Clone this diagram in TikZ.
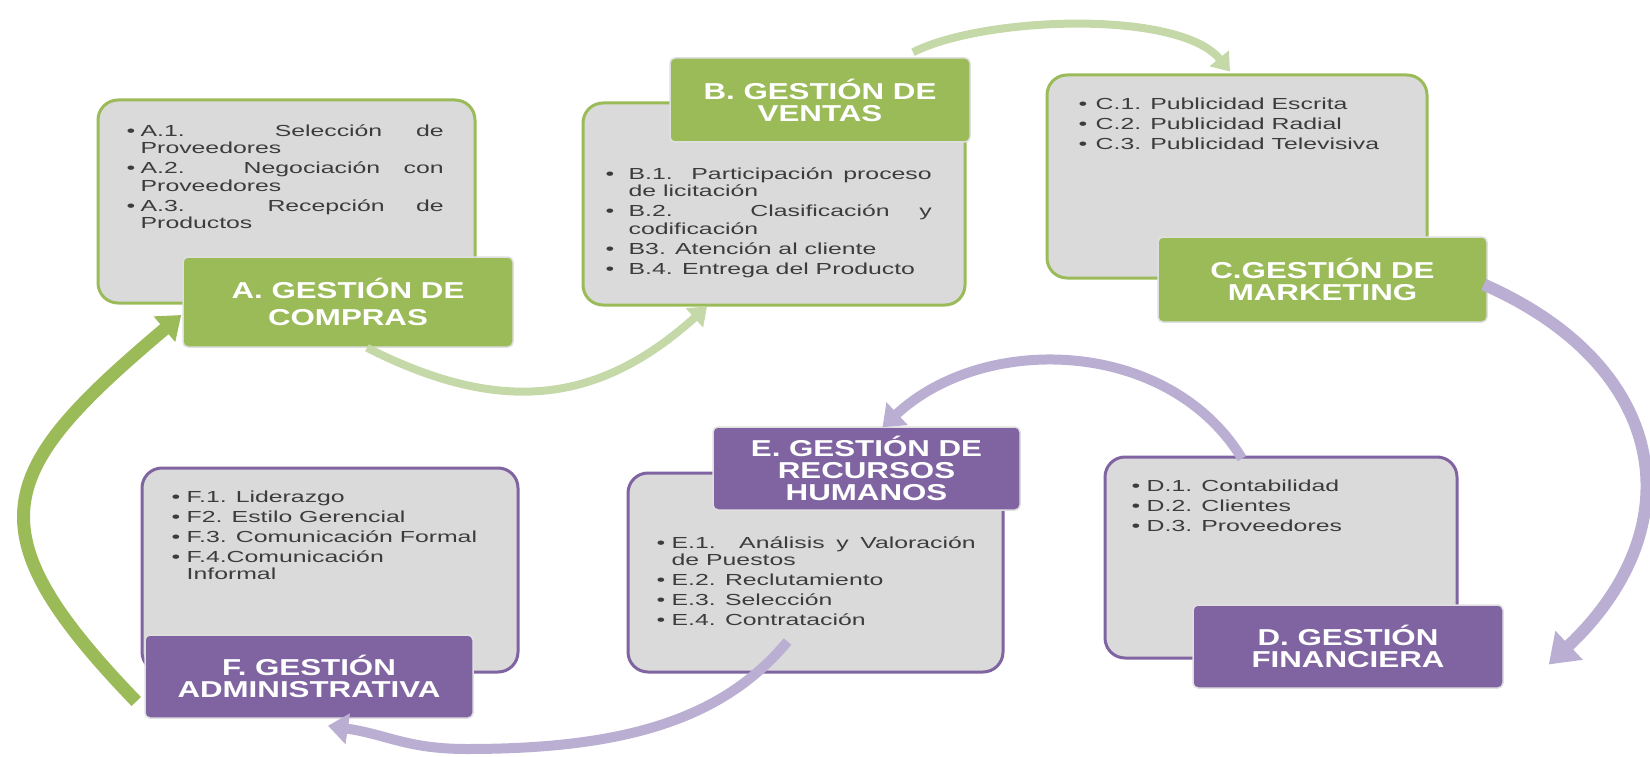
\documentclass[tikz,border=0pt]{standalone}
\usepackage{fontspec}
\usepackage{enumitem}
\usepackage{tikz}
\usetikzlibrary{arrows.meta, positioning}

\newfontfamily\itemfont{Liberation Sans}[FakeStretch=1.55]
\newfontfamily\headfont{Liberation Sans}[FakeStretch=1.36]

\definecolor{grnbox}{HTML}{9BBB59}
\definecolor{prpbox}{HTML}{8064A2}
\definecolor{grnarrow}{HTML}{C5D9A8}
\definecolor{prparrow}{HTML}{BAAFD3}
\definecolor{listgray}{HTML}{DADADA}
\definecolor{listtext}{HTML}{3C3C3C}

% bullet list used inside the grey boxes
\newenvironment{bullets}[1][15pt]{%
  \begin{itemize}[nosep, itemsep=2.5pt, leftmargin=#1, labelwidth=#1,
    labelsep=0pt, labelindent=0pt, align=left, label=\textbullet]}
  {\end{itemize}}

\hyphenpenalty=10000
\tolerance=9999

\begin{document}
\begin{tikzpicture}[
    x=1pt, y=-1pt,
    listbox/.style={draw=#1, line width=3pt, rounded corners=20pt, fill=listgray, inner sep=0pt},
    titlebox/.style={fill=#1, draw=gray!25, line width=1.5pt, rounded corners=5pt, inner sep=0pt,
      text=white, align=center, font=\headfont\bfseries\fontsize{23}{22}\selectfont},
    items/.style={inner sep=0pt, align=justify, text=listtext, font=\itemfont\fontsize{16}{17.5}\selectfont},
    link/.style={draw=#1, line width=10pt, -{Triangle[length=20pt,width=30pt]}}
  ]

  \useasboundingbox (0,0) rectangle (1650,757);

  % Grey boxes
  \node[listbox=grnbox, minimum width=377pt, minimum height=203pt] (Abox) at (286.5,201.5) {};
  \node[listbox=grnbox, minimum width=382pt, minimum height=202pt] (Bbox) at (774,204) {};
  \node[listbox=grnbox, minimum width=380pt, minimum height=203pt] (Cbox) at (1237,176.5) {};
  \node[listbox=prpbox, minimum width=352pt, minimum height=201pt] (Dbox) at (1281,557.5) {};
  \node[listbox=prpbox, minimum width=375pt, minimum height=199pt] (Ebox) at (815.5,572.5) {};
  \node[listbox=prpbox, minimum width=376pt, minimum height=204pt] (Fbox) at (330,570) {};

  % Tasks of each area
  \node[items, text width=317pt, below right=20pt and 30pt of Abox.north west] (Aitems) {%
    \begin{bullets}[14pt]
      \item A.1. Selección de Proveedores
      \item A.2. Negociación con Proveedores
      \item A.3. Recepción de Productos
    \end{bullets}};
  \node[items, text width=326pt, below right=60pt and 24pt of Bbox.north west] (Bitems) {%
    \begin{bullets}[23pt]
      \item B.1. Participación proceso de licitación
      \item B.2. Clasificación y codificación
      \item B3. Atención al cliente
      \item B.4. Entrega del Producto
    \end{bullets}};
  \node[items, text width=317pt, below right=18pt and 33pt of Cbox.north west] (Citems) {%
    \begin{bullets}[17pt]
      \item C.1. Publicidad Escrita
      \item C.2. Publicidad Radial
      \item C.3. Publicidad Televisiva
    \end{bullets}};
  \node[items, text width=300pt, below right=18pt and 28pt of Dbox.north west] (Ditems) {%
    \begin{bullets}[15pt]
      \item D.1. Contabilidad
      \item D.2. Clientes
      \item D.3. Proveedores
    \end{bullets}};
  \node[items, text width=319pt, below right=59pt and 30pt of Ebox.north west] (Eitems) {%
    \begin{bullets}[15pt]
      \item E.1. Análisis y Valoración de Puestos
      \item E.2. Reclutamiento
      \item E.3. Selección
      \item E.4. Contratación
    \end{bullets}};
  \node[items, text width=312pt, below right=18pt and 31pt of Fbox.north west] (Fitems) {%
    \begin{bullets}[15pt]
      \item F.1. Liderazgo
      \item F2. Estilo Gerencial
      \item F.3. Comunicación Formal
      \item F.4.Comunicación\newline Informal
    \end{bullets}};

  % Area titles
  \node[titlebox=grnbox, minimum width=330pt, minimum height=90pt] (Atitle) at (348,302) {A. GESTIÓN DE\\[5pt]COMPRAS};
  \node[titlebox=grnbox, minimum width=300pt, minimum height=84pt] (Btitle) at (820,100) {B. GESTIÓN DE\\VENTAS};
  \node[titlebox=grnbox, minimum width=329pt, minimum height=85pt] (Ctitle) at (1322.5,279.5) {C.GESTIÓN DE\\MARKETING};
  \node[titlebox=prpbox, minimum width=310pt, minimum height=83pt] (Dtitle) at (1348,646.5) {D. GESTIÓN\\FINANCIERA};
  \node[titlebox=prpbox, minimum width=307pt, minimum height=83pt] (Etitle) at (866.5,468.5) {E. GESTIÓN DE\\RECURSOS\\HUMANOS};
  \node[titlebox=prpbox, minimum width=328pt, minimum height=83pt] (Ftitle) at (309,676.5) {F. GESTIÓN\\ADMINISTRATIVA};

  % Cycle arrows
  \draw[link=grnbox, line width=13pt, -{Triangle[length=22pt,width=32pt]}]
    ([shift={(-8,25)}]Ftitle.west) .. controls +(-168,-174) and +(-185,156) .. ([shift={(-1,13)}]Atitle.west);
  \draw[link=grnarrow, line width=8pt, -{Triangle[length=17pt,width=25pt]}]
    ([xshift=19pt]Atitle.south) .. controls +(132,67) and +(-110,99) .. ([xshift=-67pt]Bbox.south);
  \draw[link=grnarrow, line width=8pt, -{Triangle[length=17pt,width=24pt]}]
    ([shift={(93,-5)}]Btitle.north) .. controls +(71,-36) and +(-51,-62) .. ([shift={(-7,-2)}]Cbox.north);
  \draw[link=prparrow, line width=12pt, -{Triangle[length=28pt,width=38pt]}]
    ([shift={(-4,5)}]Ctitle.east) .. controls +(184,81) and +(147,-139) .. ([shift={(45,18)}]Dtitle.east);
  \draw[link=prparrow]
    ([shift={(-39,3)}]Dbox.north) .. controls +(-73,-120) and +(102,-95) .. ([shift={(16,1)}]Etitle.north);
  \draw[link=prparrow]
    ([shift={(-28,-32)}]Ebox.south) .. controls +(-64,77) and +(160,0) .. (467,749)
    .. controls +(-60,0) and +(60,9) .. ([shift={(19,7)}]Ftitle.south);

\end{tikzpicture}
\end{document}
